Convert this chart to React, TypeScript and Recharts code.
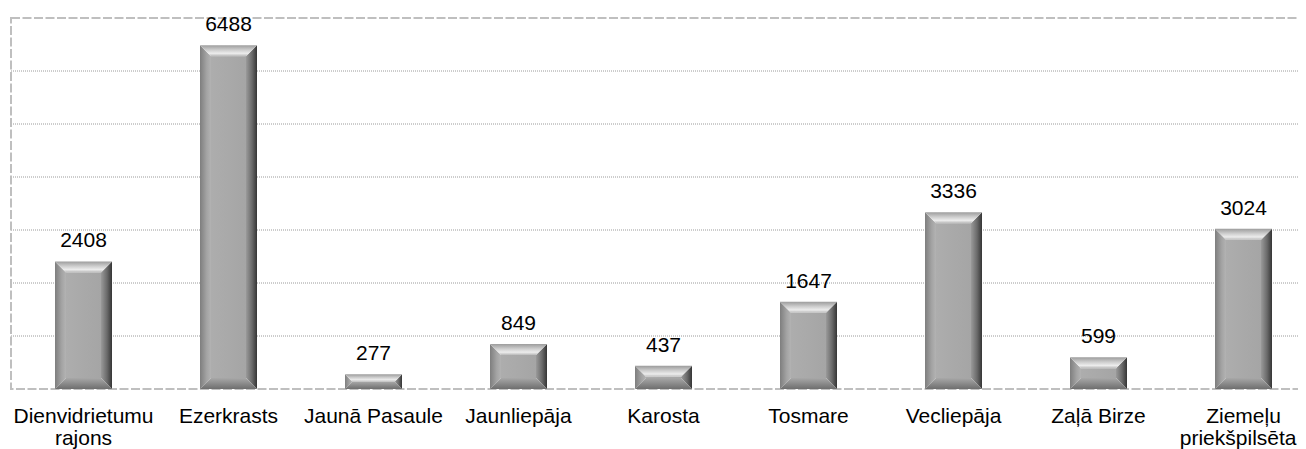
import React from 'react';
import { BarChart, Bar, XAxis, YAxis, CartesianGrid, LabelList, ReferenceArea } from 'recharts';

const categories = [
  'Dienvidrietumu rajons',
  'Ezerkrasts',
  'Jaunā Pasaule',
  'Jaunliepāja',
  'Karosta',
  'Tosmare',
  'Vecliepāja',
  'Zaļā Birze',
  'Ziemeļu priekšpilsēta',
];
const values = [2408, 6488, 277, 849, 437, 1647, 3336, 599, 3024];
const tickLines = [
  ['Dienvidrietumu', 'rajons'],
  ['Ezerkrasts'],
  ['Jaunā Pasaule'],
  ['Jaunliepāja'],
  ['Karosta'],
  ['Tosmare'],
  ['Vecliepāja'],
  ['Zaļā Birze'],
  ['Ziemeļu', 'priekšpilsēta'],
];
const yTicks = [1000, 2000, 3000, 4000, 5000, 6000];
const yMax = 7000;

const data = categories.map((name, i) => ({ name, value: values[i] }));

const FONT = '"Liberation Sans", Arial, Helvetica, sans-serif';

function BevelBar(props: any) {
  const { x, y, width: w, height: h, index } = props;
  if (!h || h <= 0 || !w) return null;
  const b = Math.min(11, h / 2, w / 2);
  const id = `bv${index}`;
  const x2 = x + w;
  const y2 = y + h;
  return (
    <g>
      <defs>
        <linearGradient id={`${id}t`} x1="0" y1="0" x2="0" y2="1">
          <stop offset="0%" stopColor="#9c9c9c" />
          <stop offset="45%" stopColor="#cfcfcf" />
          <stop offset="75%" stopColor="#ececec" />
          <stop offset="100%" stopColor="#b9b9b9" />
        </linearGradient>
        <linearGradient id={`${id}l`} x1="0" y1="0" x2="1" y2="0">
          <stop offset="0%" stopColor="#7e7e7e" />
          <stop offset="60%" stopColor="#a3a3a3" />
          <stop offset="100%" stopColor="#b3b3b3" />
        </linearGradient>
        <linearGradient id={`${id}r`} x1="0" y1="0" x2="1" y2="0">
          <stop offset="0%" stopColor="#9a9a9a" />
          <stop offset="55%" stopColor="#6a6a6a" />
          <stop offset="100%" stopColor="#353535" />
        </linearGradient>
        <linearGradient id={`${id}b`} x1="0" y1="0" x2="0" y2="1">
          <stop offset="0%" stopColor="#a8a8a8" />
          <stop offset="100%" stopColor="#6e6e6e" />
        </linearGradient>
        <linearGradient id={`${id}f`} x1="0" y1="0" x2="1" y2="0">
          <stop offset="0%" stopColor="#adadad" />
          <stop offset="100%" stopColor="#a5a5a5" />
        </linearGradient>
      </defs>
      <rect x={x + b} y={y + b} width={Math.max(0, w - 2 * b)} height={Math.max(0, h - 2 * b)} fill={`url(#${id}f)`} />
      <polygon points={`${x},${y} ${x + b},${y + b} ${x + b},${y2 - b} ${x},${y2}`} fill={`url(#${id}l)`} />
      <polygon points={`${x2},${y} ${x2},${y2} ${x2 - b},${y2 - b} ${x2 - b},${y + b}`} fill={`url(#${id}r)`} />
      <polygon points={`${x},${y2} ${x + b},${y2 - b} ${x2 - b},${y2 - b} ${x2},${y2}`} fill={`url(#${id}b)`} />
      <polygon points={`${x},${y} ${x2},${y} ${x2 - b},${y + b} ${x + b},${y + b}`} fill={`url(#${id}t)`} />
    </g>
  );
}

function Tick(props: any) {
  const { x, y, payload } = props;
  const idx = categories.indexOf(payload.value);
  const lines = tickLines[idx] || [String(payload.value)];
  const isLast = idx === categories.length - 1;
  return (
    <g>
      {lines.map((l, i) => {
        const shiftEnd = isLast && i > 0;
        return (
          <text
            key={i}
            x={shiftEnd ? x + 53 : x}
            y={y + 34 + i * 22}
            textAnchor={shiftEnd ? 'end' : 'middle'}
            fontSize={21}
            fill="#000"
            fontFamily={FONT}
          >
            {l}
          </text>
        );
      })}
    </g>
  );
}

export default function App() {
  return (
    <div style={{ width: 1298, height: 441, overflow: 'hidden', position: 'relative' }}>
      <BarChart
        width={1313}
        height={441}
        data={data}
        margin={{ top: 10, right: 5, bottom: 0, left: 3 }}
        style={{ fontFamily: FONT }}
      >
        <CartesianGrid
          vertical={false}
          stroke="#9a9a9a"
          strokeDasharray="1 1"
          horizontalValues={yTicks}
        />
        <XAxis
          dataKey="name"
          interval={0}
          axisLine={false}
          tickLine={false}
          tickSize={0}
          tickMargin={0}
          height={60}
          tick={<Tick />}
        />
        <YAxis hide domain={[0, yMax]} ticks={yTicks} />
        <ReferenceArea
          y1={0}
          y2={yMax}
          fill="none"
          stroke="#bfbfbf"
          strokeWidth={2}
          strokeDasharray="9 2.5"
          ifOverflow="visible"
        />
        <Bar dataKey="value" barSize={57} isAnimationActive={false} shape={<BevelBar />}>
          <LabelList
            dataKey="value"
            position="top"
            offset={14}
            fontSize={21}
            fill="#000"
            fontFamily={FONT}
          />
        </Bar>
      </BarChart>
    </div>
  );
}
